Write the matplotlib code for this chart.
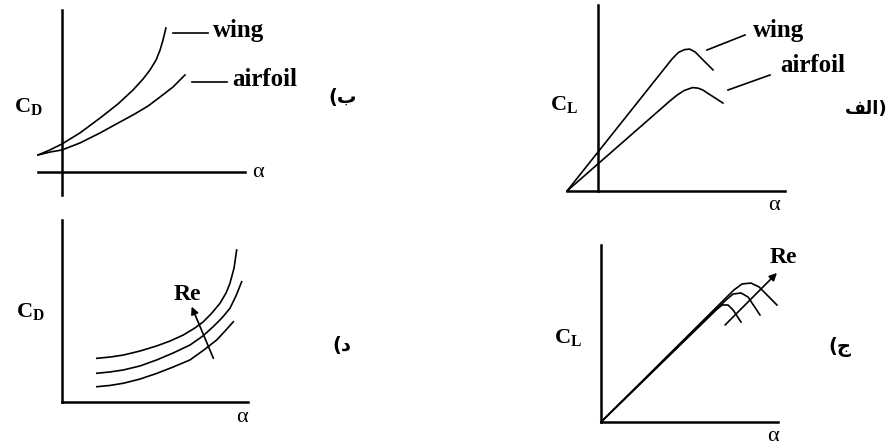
import matplotlib
matplotlib.use('Agg')
import matplotlib.pyplot as plt
from matplotlib.lines import Line2D

# panel b (top left): C_D vs alpha, wing / airfoil
cd_wing_alpha = [-1.31, -0.66, 0.0, 0.98, 2.08, 3.06, 3.88, 4.43, 4.81, 5.14, 5.36, 5.52, 5.68]
cd_wing = [0.105, 0.136, 0.173, 0.241, 0.333, 0.420, 0.506, 0.574, 0.630, 0.691, 0.753, 0.815, 0.889]
cd_foil_alpha = [-1.31, -0.66, 0.0, 0.98, 2.08, 3.06, 3.88, 4.70, 5.36, 6.07, 6.72]
cd_foil = [0.105, 0.123, 0.136, 0.179, 0.241, 0.302, 0.352, 0.407, 0.463, 0.525, 0.599]

# panel alef (top right): C_L vs alpha, wing / airfoil
cl_wing_alpha = [-1.66, 3.96, 4.30, 4.62, 4.90, 5.20, 5.60, 6.15]
cl_wing = [0.0, 0.710, 0.745, 0.760, 0.763, 0.747, 0.706, 0.651]
cl_foil_alpha = [-1.66, 3.90, 4.25, 4.60, 5.05, 5.35, 5.60, 6.68]
cl_foil = [0.0, 0.489, 0.517, 0.540, 0.556, 0.553, 0.543, 0.473]

# panel dal (bottom left): C_D vs alpha for three Re
re_cd_alpha = [
    [1.87, 2.58, 3.30, 4.19, 5.09, 5.81, 6.52, 7.15, 7.60, 8.06, 8.49, 8.82, 9.03, 9.25, 9.39],
    [1.87, 2.58, 3.30, 4.19, 5.09, 5.97, 6.88, 7.58, 8.13, 8.60, 9.03, 9.35, 9.66],
    [1.87, 2.58, 3.30, 4.19, 5.09, 5.97, 6.88, 7.63, 8.32, 8.82, 9.21],
]
re_cd = [
    [0.240, 0.247, 0.258, 0.280, 0.308, 0.335, 0.368, 0.407, 0.441, 0.489, 0.542, 0.599, 0.652, 0.736, 0.835],
    [0.158, 0.165, 0.176, 0.198, 0.231, 0.269, 0.313, 0.363, 0.414, 0.462, 0.515, 0.582, 0.661],
    [0.084, 0.091, 0.103, 0.126, 0.157, 0.192, 0.231, 0.286, 0.341, 0.396, 0.441],
]

# panel jim (bottom right): C_L vs alpha for three Re
re_cl_alpha = [
    [0.0, 6.50, 6.84, 7.18, 7.46, 7.91],
    [0.0, 7.06, 7.46, 7.91, 8.31, 8.98],
    [0.0, 7.51, 7.97, 8.47, 8.93, 9.94],
]
re_cl = [
    [0.0, 0.633, 0.661, 0.661, 0.633, 0.565],
    [0.0, 0.689, 0.723, 0.729, 0.706, 0.605],
    [0.0, 0.746, 0.780, 0.785, 0.763, 0.661],
]

W, H = 892, 444
SERIF = 'Liberation Serif'
AX_LW = 1.8
LN_LW = 1.2

plt.rcParams['mathtext.fontset'] = 'custom'
plt.rcParams['mathtext.rm'] = SERIF
plt.rcParams['mathtext.bf'] = SERIF + ':bold'


def box(x0, y0, x1, y1):
    return [x0 / W, 1 - y1 / H, (x1 - x0) / W, (y1 - y0) / H]


def px(x, y):
    return x / W, 1 - y / H


def bare_axes(fig, rect, xlim, ylim):
    ax = fig.add_axes(rect)
    ax.set_xlim(*xlim)
    ax.set_ylim(*ylim)
    ax.patch.set_visible(False)
    for s in ['top', 'right']:
        ax.spines[s].set_visible(False)
    for s in ['left', 'bottom']:
        ax.spines[s].set_linewidth(AX_LW)
        ax.spines[s].set_color('black')
    ax.set_xticks([])
    ax.set_yticks([])
    return ax


def label(fig, x, y, s, size=18, ha='left', **kw):
    fig.text(*px(x, y), s, fontsize=size, ha=ha, va='center', **kw)


def leader(fig, x0, y0, x1, y1):
    fig.add_artist(Line2D([x0 / W, x1 / W], [1 - y0 / H, 1 - y1 / H],
                          transform=fig.transFigure, color='black', lw=LN_LW))


fig = plt.figure(figsize=(W / 100, H / 100), dpi=100)
fig.patch.set_facecolor('white')

cd_label = r'$\mathbf{C}_{\mathbf{D}}$'
cl_label = r'$\mathbf{C}_{\mathbf{L}}$'

# ---- top left
ax = bare_axes(fig, box(38, 10, 245, 195), (-1.31, 10), (-0.142, 1.0))
ax.spines['left'].set_position(('data', 0))
ax.spines['bottom'].set_position(('data', 0))
ax.plot(cd_wing_alpha, cd_wing, color='black', lw=LN_LW, clip_on=False)
ax.plot(cd_foil_alpha, cd_foil, color='black', lw=LN_LW, clip_on=False)
leader(fig, 173, 33, 208, 33)
leader(fig, 192, 82, 227, 82)
label(fig, 213, 31, 'wing', family=SERIF, weight='bold')
label(fig, 232, 80, 'airfoil', family=SERIF, weight='bold')
label(fig, 28, 107, cd_label, size=16, ha='center')
label(fig, 258, 172, 'α', size=16, ha='center', family=SERIF)
label(fig, 343, 98, '(ب', size=14, ha='center', family=['DejaVu Sans'], weight='bold')

# ---- top right
ax = bare_axes(fig, box(567, 5, 785, 191), (-1.66, 10), (0, 1))
ax.spines['left'].set_position(('data', 0))
ax.plot(cl_wing_alpha, cl_wing, color='black', lw=LN_LW, clip_on=False)
ax.plot(cl_foil_alpha, cl_foil, color='black', lw=LN_LW, clip_on=False)
leader(fig, 707, 50, 745, 35)
leader(fig, 728, 90, 770, 75)
label(fig, 753, 31, 'wing', family=SERIF, weight='bold')
label(fig, 780, 66, 'airfoil', family=SERIF, weight='bold')
label(fig, 564, 105, cl_label, size=16, ha='center')
label(fig, 774, 206, 'α', size=16, ha='center', family=SERIF)
label(fig, 866, 109, '\uFED2\uFEDF\uFE8D)', size=13, ha='center',
      family=['DejaVu Sans'], weight='bold')

# ---- bottom left
ax = bare_axes(fig, box(62, 220, 248, 402), (0, 10), (0, 1))
for a, c in zip(re_cd_alpha, re_cd):
    ax.plot(a, c, color='black', lw=LN_LW, clip_on=False)
ax.annotate('', xy=(6.97, 0.524), xytext=(8.14, 0.240),
            arrowprops=dict(arrowstyle='-|>', color='black', lw=LN_LW,
                            mutation_scale=11, shrinkA=0, shrinkB=0))
ax.text(6.75, 0.591, 'Re', fontsize=17, family=SERIF, weight='bold',
        ha='center', va='center')
label(fig, 30, 312, cd_label, size=16, ha='center')
label(fig, 242, 417, 'α', size=16, ha='center', family=SERIF)
label(fig, 342, 345, '(د', size=14, ha='center', family=['DejaVu Sans'], weight='bold')

# ---- bottom right
ax = bare_axes(fig, box(601, 245, 778, 422), (0, 10), (0, 1))
for a, c in zip(re_cl_alpha, re_cl):
    ax.plot(a, c, color='black', lw=LN_LW, clip_on=False)
ax.annotate('', xy=(9.94, 0.842), xytext=(7.01, 0.548),
            arrowprops=dict(arrowstyle='-|>', color='black', lw=LN_LW,
                            mutation_scale=11, shrinkA=0, shrinkB=0))
ax.text(10.3, 0.927, 'Re', fontsize=17, family=SERIF, weight='bold',
        ha='center', va='center')
label(fig, 568, 338, cl_label, size=16, ha='center')
label(fig, 773, 436, 'α', size=16, ha='center', family=SERIF)
label(fig, 840, 347, '(ج', size=14, ha='center', family=['DejaVu Sans'], weight='bold')

fig.savefig('out.png', dpi=100)
